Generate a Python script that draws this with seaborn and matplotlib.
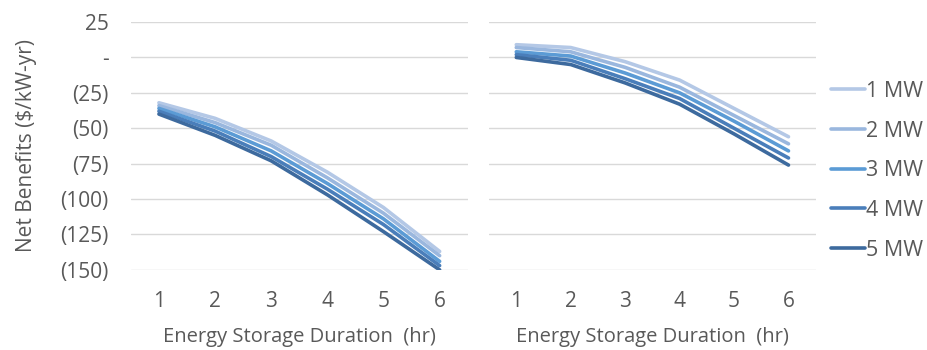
import numpy as np
import pandas as pd
import matplotlib
matplotlib.use("Agg")
import matplotlib.pyplot as plt
import seaborn as sns
from matplotlib.ticker import FuncFormatter

sns.set_style("white")
plt.rcParams['font.family'] = ['Open Sans', 'DejaVu Sans']

durations = [1, 2, 3, 4, 5, 6]
sizes = ["1 MW", "2 MW", "3 MW", "4 MW", "5 MW"]

# left panel values ($/kW-yr)
left_1mw = [-32, -43, -59, -81, -106, -137]
left_2mw = [-34, -46, -62, -85, -110, -140]
left_3mw = [-36, -49, -66, -89, -114, -144]
left_4mw = [-38, -52, -70, -93, -118, -147]
left_5mw = [-40, -55, -73, -97, -123, -150]

# right panel values ($/kW-yr)
right_1mw = [9, 7, -3, -16, -36, -56]
right_2mw = [7, 4, -7, -21, -41, -61]
right_3mw = [4, 1, -11, -25, -45, -66]
right_4mw = [2, -2, -15, -29, -50, -71]
right_5mw = [0, -5, -18, -33, -54, -76]

colors = ["#b4c8e6", "#9ab7de", "#5b9bd5", "#4a7eba", "#3d6a9e"]


def to_long(series):
    rows = []
    for size, vals in zip(sizes, series):
        for d, v in zip(durations, vals):
            rows.append({"Duration": d, "Size": size, "Value": v})
    return pd.DataFrame(rows)


df_left = to_long([left_1mw, left_2mw, left_3mw, left_4mw, left_5mw])
df_right = to_long([right_1mw, right_2mw, right_3mw, right_4mw, right_5mw])


def fmt(v, pos):
    if abs(v) < 1e-9:
        return "-"
    if v < 0:
        return f"({abs(v):.0f})"
    return f"{v:.0f}"


fig = plt.figure(figsize=(9.28, 3.5), dpi=100)
ax1 = fig.add_axes([0.141, 0.229, 0.363, 0.708])
ax2 = fig.add_axes([0.527, 0.229, 0.352, 0.708])

grey = "#595959"
fs = 15
for ax, df in [(ax1, df_left), (ax2, df_right)]:
    sns.lineplot(data=df, x="Duration", y="Value", hue="Size",
                 palette=colors, linewidth=2.6, ax=ax, legend=(ax is ax2))
    ax.set_xlim(0.5, 6.5)
    ax.set_ylim(-150, 25)
    ax.set_yticks(np.arange(-150, 26, 25))
    ax.set_xticks(durations)
    ax.grid(axis='y', color="#d9d9d9", linewidth=1)
    ax.set_axisbelow(True)
    for s in ax.spines.values():
        s.set_visible(False)
    ax.tick_params(axis='both', length=0, labelsize=fs, colors=grey)
    ax.tick_params(axis='x', pad=15)
    ax.set_xlabel("Energy Storage Duration  (hr)", fontsize=14.5, color=grey, labelpad=11)
    ax.set_ylabel("")

ax1.yaxis.set_major_formatter(FuncFormatter(fmt))
ax1.tick_params(axis='y', pad=16)
ax1.set_ylabel("Net Benefits ($/kW-yr)", fontsize=15, color=grey, labelpad=17)
ax2.set_yticklabels([])

leg = ax2.legend(loc='center left', bbox_to_anchor=(1.0, 0.40), frameon=False,
                 fontsize=15.5, handlelength=1.6, handletextpad=0.05,
                 labelspacing=0.87, borderaxespad=0.3)
for t in leg.get_texts():
    t.set_color(grey)
for line in leg.get_lines():
    line.set_linewidth(2.6)

fig.savefig("out.png", dpi=100)
